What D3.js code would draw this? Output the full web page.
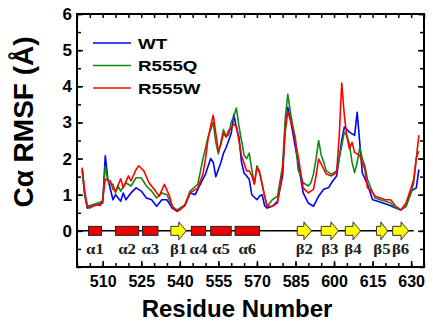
<!DOCTYPE html>
<html>
<head>
<meta charset="utf-8">
<script src="https://cdn.jsdelivr.net/npm/d3@7"></script>
<style>
	body { margin: 0; background: #fff; }
	text { font-family: "Liberation Sans", Arial, sans-serif; font-weight: bold; }
</style>
</head>
<body>
<div id="chart"></div>
<script>
// RMSF per residue
var wtResidue = [502, 503, 504, 506, 508, 510, 511, 512, 513, 514, 515, 517, 518, 519, 521, 523, 525, 527, 529, 531, 533, 535, 537, 539, 542, 544, 546, 548, 550, 552, 553, 554, 555, 556, 557, 558, 559, 560, 561, 562, 563, 564, 565, 566, 567, 568, 570, 571, 572, 573, 574, 576, 578, 580, 581, 582, 583, 584, 586, 588, 590, 592, 594, 596, 598, 599, 601, 602, 603, 604, 606, 608, 609, 610, 611, 613, 615, 617, 619, 621, 624, 626, 628, 630, 632, 633];
var wtRmsf = [1.7, 1.0, 0.63, 0.68, 0.72, 0.77, 2.08, 1.43, 1.15, 0.86, 1.0, 0.82, 1.05, 0.86, 1.05, 1.19, 1.1, 0.91, 0.86, 0.68, 0.86, 0.86, 0.63, 0.54, 0.7, 1.05, 1.0, 1.29, 1.57, 2.0, 1.9, 1.5, 1.7, 1.9, 2.15, 2.3, 2.5, 2.7, 3.22, 2.85, 2.6, 1.9, 1.6, 1.52, 1.43, 1.0, 0.86, 0.96, 1.0, 0.7, 0.63, 0.68, 0.82, 1.52, 2.9, 3.42, 3.1, 2.7, 1.89, 1.05, 0.77, 0.68, 0.96, 1.15, 1.2, 1.33, 1.52, 2.0, 2.5, 2.87, 2.73, 2.64, 3.28, 2.45, 1.6, 1.29, 0.86, 0.82, 0.77, 0.72, 0.63, 0.58, 0.68, 1.1, 1.19, 1.7];

var qResidue = [502, 503, 504, 506, 508, 510, 511, 512, 513, 514, 515, 516, 517, 519, 521, 523, 525, 527, 529, 531, 533, 535, 537, 539, 542, 544, 547, 549, 551, 553, 554, 555, 557, 558, 559, 560, 561, 562, 563, 564, 565, 566, 567, 568, 569, 570, 571, 573, 574, 576, 578, 580, 581, 582, 583, 584, 585, 586, 588, 590, 591, 592, 593, 594, 595, 596, 597, 599, 601, 603, 604, 605, 606, 607, 608, 609, 610, 611, 612, 613, 614, 616, 618, 620, 622, 624, 626, 628, 630, 631, 632, 633];
var qRmsf = [1.7, 1.0, 0.68, 0.72, 0.77, 0.82, 1.8, 1.38, 1.3, 1.29, 1.05, 1.24, 1.1, 1.33, 1.24, 1.47, 1.47, 1.24, 1.1, 0.91, 1.05, 1.0, 0.68, 0.58, 0.72, 1.1, 1.29, 1.99, 2.6, 3.0, 2.45, 2.13, 2.8, 2.6, 2.66, 3.0, 3.17, 3.4, 2.9, 2.5, 2.1, 2.0, 2.15, 1.7, 1.29, 1.8, 1.66, 0.96, 0.68, 0.86, 0.96, 1.8, 3.1, 3.78, 3.3, 2.9, 2.55, 1.7, 1.33, 1.24, 1.33, 1.57, 1.99, 2.5, 2.1, 1.9, 1.66, 1.57, 1.66, 2.36, 2.73, 2.64, 2.4, 1.9, 1.61, 1.89, 2.31, 2.0, 1.8, 1.43, 1.24, 0.91, 0.86, 0.82, 0.77, 0.63, 0.58, 0.68, 1.05, 1.33, 2.0, 2.2];

var wResidue = [502, 503, 504, 505, 507, 509, 510, 511, 513, 514, 515, 517, 518, 520, 521, 523, 524, 526, 528, 530, 532, 534, 536, 537, 538, 540, 542, 544, 547, 549, 550, 551, 552, 553, 554, 555, 556, 557, 558, 559, 560, 561, 562, 563, 564, 566, 567, 568, 569, 570, 571, 573, 574, 576, 578, 580, 581, 582, 584, 586, 588, 590, 592, 593, 594, 596, 597, 599, 601, 602, 603, 604, 605, 606, 607, 608, 609, 610, 612, 613, 614, 616, 618, 620, 622, 624, 626, 628, 630, 631, 632, 633];
var wRmsf = [1.75, 1.1, 0.68, 0.63, 0.72, 0.7, 0.86, 1.43, 1.38, 1.15, 1.1, 1.44, 1.19, 1.52, 1.38, 1.7, 1.8, 1.66, 1.33, 1.15, 0.96, 1.29, 0.96, 0.7, 0.58, 0.58, 0.72, 1.05, 1.19, 1.57, 1.99, 2.55, 2.9, 3.2, 2.7, 2.2, 2.4, 2.7, 2.6, 2.78, 2.85, 2.95, 2.9, 2.5, 2.08, 1.66, 1.66, 1.52, 1.3, 1.75, 1.61, 0.96, 0.68, 0.68, 0.77, 1.7, 2.73, 3.3, 2.83, 2.08, 1.19, 1.05, 1.15, 1.52, 1.99, 1.71, 1.57, 1.52, 1.61, 2.6, 4.09, 3.2, 2.6, 2.27, 2.45, 2.17, 2.13, 2.08, 1.7, 1.19, 1.15, 0.96, 0.91, 0.86, 0.86, 0.68, 0.58, 0.77, 1.19, 1.43, 2.0, 2.65];

var seriesNames = ["WT", "R555Q", "R555W"];
var seriesColors = ["#0000ff", "#108a10", "#ff0000"];

// secondary structure elements
var helixNames = ["α1", "α2", "α3", "α4", "α5", "α6"];
var helixStart = [504.5, 515, 525.5, 544.5, 552, 561.5];
var helixEnd = [509.5, 524, 531.5, 550, 560, 571];
var strandNames = ["β1", "β2", "β3", "β4", "β5", "β6"];
var strandStart = [536.5, 585.7, 595, 604.4, 616.5, 622.8];
var strandEnd = [542.5, 591.2, 601.7, 610.3, 620.8, 629];

var xLabelTicks = [510, 525, 540, 555, 570, 585, 600, 615, 630];
var yLabelTicks = [0, 1, 2, 3, 4, 5, 6];

var W = 433, H = 323;
var plotL = 77, plotR = 424, plotT = 14, plotB = 267;

var svg = d3.select("#chart")
	.append("svg")
	.attr("width", W)
	.attr("height", H);

var x = d3.scaleLinear().domain([500, 635]).range([plotL, plotR]);
var y = d3.scaleLinear().domain([-1, 6]).range([plotB, plotT]);

var minorX = d3.range(500, 636, 5);
var minorY = d3.range(-1, 6.01, 0.5);

// ticks (all pointing inward)
function tickAxis(axis, pos, values, size) {
	var g = svg.append("g")
		.attr("transform", pos)
		.call(axis.tickValues(values).tickSize(-size).tickFormat(""));
	g.select(".domain").remove();
	g.selectAll("line").attr("stroke", "#000").attr("stroke-width", 1.5);
	return g;
}
tickAxis(d3.axisBottom(x), "translate(0," + plotB + ")", minorX, 4);
tickAxis(d3.axisTop(x), "translate(0," + plotT + ")", minorX, 4);
tickAxis(d3.axisLeft(y), "translate(" + plotL + ",0)", minorY, 4);
tickAxis(d3.axisRight(y), "translate(" + plotR + ",0)", minorY, 4);

var xAxis = svg.append("g")
	.attr("transform", "translate(0," + plotB + ")")
	.call(d3.axisBottom(x).tickValues(xLabelTicks).tickSize(-6).tickPadding(9));
xAxis.select(".domain").remove();
xAxis.selectAll("line").attr("stroke", "#000").attr("stroke-width", 1.5);
xAxis.selectAll("text")
	.attr("fill", "#000")
	.style("font-size", "16px")
	.style("font-family", "'Liberation Sans', Arial, sans-serif")
	.style("font-weight", "bold");

var yAxis = svg.append("g")
	.attr("transform", "translate(" + plotL + ",0)")
	.call(d3.axisLeft(y).tickValues(yLabelTicks).tickFormat(d3.format("d")).tickSize(-6).tickPadding(5));
yAxis.select(".domain").remove();
yAxis.selectAll("line").attr("stroke", "#000").attr("stroke-width", 1.5);
yAxis.selectAll("text")
	.attr("fill", "#000")
	.style("font-size", "17px")
	.style("font-family", "'Liberation Sans', Arial, sans-serif")
	.style("font-weight", "bold");

var yRight = svg.append("g")
	.attr("transform", "translate(" + plotR + ",0)")
	.call(d3.axisRight(y).tickValues(yLabelTicks).tickSize(-6).tickFormat(""));
yRight.select(".domain").remove();
yRight.selectAll("line").attr("stroke", "#000").attr("stroke-width", 1.5);

// data lines
var line = d3.line()
	.x(function (d) { return x(d[0]); })
	.y(function (d) { return y(d[1]); });

var allSeries = [
	d3.zip(wtResidue, wtRmsf),
	d3.zip(qResidue, qRmsf),
	d3.zip(wResidue, wRmsf)
];

allSeries.forEach(function (s, i) {
	svg.append("path")
		.datum(s)
		.attr("fill", "none")
		.attr("stroke", seriesColors[i])
		.attr("stroke-width", 1.6)
		.attr("stroke-linejoin", "round")
		.attr("d", line);
});

// secondary structure bar
var y0 = y(0);
svg.append("line")
	.attr("x1", x(500)).attr("x2", x(631))
	.attr("y1", y0).attr("y2", y0)
	.attr("stroke", "#000")
	.attr("stroke-width", 1.5);

helixNames.forEach(function (n, i) {
	svg.append("rect")
		.attr("x", x(helixStart[i]))
		.attr("y", y0 - 4.5)
		.attr("width", x(helixEnd[i]) - x(helixStart[i]))
		.attr("height", 9)
		.attr("fill", "#ee0000")
		.attr("stroke", "#222")
		.attr("stroke-width", 1);
	svg.append("text")
		.attr("transform", "translate(" + ((x(helixStart[i]) + x(helixEnd[i])) / 2) + "," + (y0 + 23) + ") scale(1.2,1)")
		.attr("text-anchor", "middle")
		.style("font-family", "'Liberation Serif', 'Times New Roman', serif")
		.style("font-size", "14px")
		.attr("fill", "#222")
		.text(n);
});

strandNames.forEach(function (n, i) {
	var x1 = x(strandStart[i]), x2 = x(strandEnd[i]);
	var hx = x2 - Math.min(7.5, (x2 - x1) * 0.6);
	var pts = [[x1, y0 - 4.5], [hx, y0 - 4.5], [hx, y0 - 9], [x2, y0], [hx, y0 + 9], [hx, y0 + 4.5], [x1, y0 + 4.5]];
	svg.append("path")
		.attr("d", "M" + pts.join("L") + "Z")
		.attr("fill", "#ffff00")
		.attr("stroke", "#333")
		.attr("stroke-width", 1);
	svg.append("text")
		.attr("transform", "translate(" + ((x1 + x2) / 2) + "," + (y0 + 23) + ") scale(1.2,1)")
		.attr("text-anchor", "middle")
		.style("font-family", "'Liberation Serif', 'Times New Roman', serif")
		.style("font-size", "14px")
		.attr("fill", "#222")
		.text(n);
});

// frame
svg.append("rect")
	.attr("x", plotL).attr("y", plotT)
	.attr("width", plotR - plotL).attr("height", plotB - plotT)
	.attr("fill", "none")
	.attr("stroke", "#000")
	.attr("stroke-width", 2);

// legend
seriesNames.forEach(function (n, i) {
	var ly = 43 + i * 22.5;
	svg.append("line")
		.attr("x1", 93).attr("x2", 131)
		.attr("y1", ly).attr("y2", ly)
		.attr("stroke", seriesColors[i])
		.attr("stroke-width", 1.6);
	svg.append("text")
		.attr("transform", "translate(138," + (ly + 5.5) + ") scale(1.25,1)")
		.style("font-size", "15px")
		.attr("fill", "#000")
		.text(n);
});

// axis titles
svg.append("text")
	.attr("transform", "translate(237,317)")
	.attr("text-anchor", "middle")
	.style("font-size", "24px")
	.attr("fill", "#000")
	.text("Residue Number");

svg.append("text")
	.attr("transform", "translate(33,122) rotate(-90)")
	.attr("text-anchor", "middle")
	.style("font-size", "28px")
	.attr("fill", "#000")
	.text("Cα RMSF (Å)");
</script>
</body>
</html>
